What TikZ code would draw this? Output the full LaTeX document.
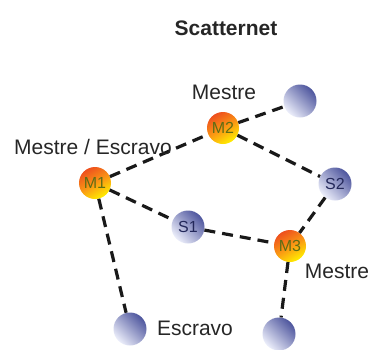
\documentclass[tikz,border=0pt]{standalone}
\usepackage{fontspec}
\setmainfont{Liberation Sans}
\definecolor{ortop}{RGB}{238,80,30}
\definecolor{ormid}{RGB}{250,150,20}
\definecolor{orbot}{RGB}{255,238,0}
\definecolor{bldark}{RGB}{78,86,158}
\definecolor{bllight}{RGB}{236,238,250}
\definecolor{mtext}{RGB}{95,110,20}
\definecolor{stext}{RGB}{35,40,90}
\begin{document}
\begin{tikzpicture}[x=1pt,y=-1pt,
  master/.style={circle,minimum size=32pt,inner sep=0pt,
    top color=ortop,bottom color=orbot,middle color=ormid,
    shading angle=30,text=mtext,font=\fontsize{16}{16}\selectfont},
  slave/.style={circle,minimum size=33pt,inner sep=0pt,
    top color=bldark,bottom color=bllight,
    shading angle=-45,text=stext,font=\fontsize{16}{16}\selectfont},
  link/.style={line width=3.2pt,dash pattern=on 11pt off 7pt,black!90},
  lbl/.style={text=black!85,font=\fontsize{21}{21}\selectfont,inner sep=0pt}]
\useasboundingbox (0,0) rectangle (370,349);
\node[lbl,font=\bfseries\fontsize{21}{21}\selectfont] (title) at (226,28) {Scatternet};
\node[master] (m2) at (223,128) {M2};
\node[slave] (tr) at (300,101) {};
\node[master] (m1) at (95,183) {M1};
\node[slave] (s2) at (335,184) {S2};
\node[slave] (s1) at (188,227) {S1};
\node[master] (m3) at (290,246) {M3};
\node[slave] (bl) at (130,329) {};
\node[slave] (br) at (279,334) {};
\draw[link] (m1) -- (m2);
\draw[link] (m2) -- (tr);
\draw[link] (m2) -- (s2);
\draw[link] (s2) -- (m3);
\draw[link] (m1) -- (s1);
\draw[link] (s1) -- (m3);
\draw[link] (m1) -- (bl);
\draw[link] (m3) -- (br);
\node[lbl] (lm2) at (224,92) {Mestre};
\node[lbl] (lm1) at (93,147) {Mestre / Escravo};
\node[lbl] (lm3) at (337,271) {Mestre};
\node[lbl] (lbl1) at (195,328) {Escravo};
\end{tikzpicture}
\end{document}
